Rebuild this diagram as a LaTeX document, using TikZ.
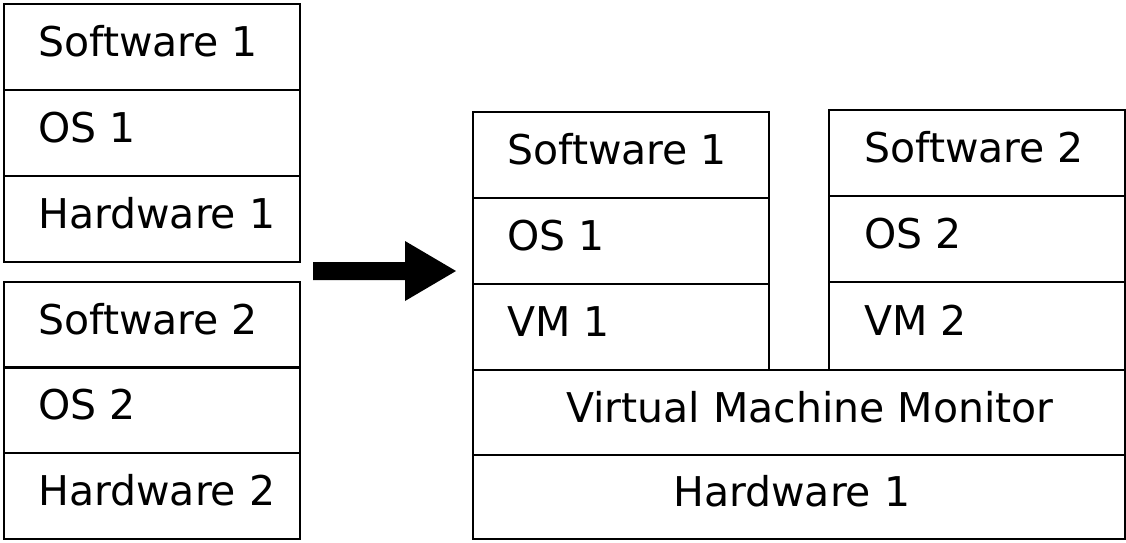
\documentclass[tikz,border=0pt]{standalone}
\usepackage{fontspec}
\setmainfont{DejaVu Sans}
\begin{document}
\begin{tikzpicture}[x=1pt,y=-1pt,
  box/.style={draw=black,line width=1.8pt,inner sep=0pt,anchor=north west},
  lbl/.style={anchor=base west,inner sep=0pt,font=\fontsize{41}{49}\selectfont}]
\useasboundingbox (0,0) rectangle (1126,542);
% left stacks
\node[box,minimum width=296pt,minimum height=86pt] (ls1) at (3,3) {};
\node[box,minimum width=296pt,minimum height=86pt] (lo1) at (3,89) {};
\node[box,minimum width=296pt,minimum height=86pt] (lh1) at (3,175) {};
\node[box,minimum width=296pt,minimum height=86pt] (ls2) at (3,281) {};
\node[box,minimum width=296pt,minimum height=86pt] (lo2) at (3,366) {};
\node[box,minimum width=296pt,minimum height=86pt] (lh2) at (3,452) {};
\node[lbl] (tls1) at ([xshift=35pt,yshift=-10pt]ls1.west) {Software 1};
\node[lbl] (tlo1) at ([xshift=35pt,yshift=-10pt]lo1.west) {OS 1};
\node[lbl] (tlh1) at ([xshift=35pt,yshift=-10pt]lh1.west) {Hardware 1};
\node[lbl] (tls2) at ([xshift=35pt,yshift=-10pt]ls2.west) {Software 2};
\node[lbl] (tlo2) at ([xshift=35pt,yshift=-10pt]lo2.west) {OS 2};
\node[lbl] (tlh2) at ([xshift=35pt,yshift=-10pt]lh2.west) {Hardware 2};
% right: VM 1 stack
\node[box,minimum width=296pt,minimum height=86pt] (rs1) at (472,111) {};
\node[box,minimum width=296pt,minimum height=86pt] (ro1) at (472,197) {};
\node[box,minimum width=296pt,minimum height=86pt] (rv1) at (472,283) {};
% right: VM 2 stack
\node[box,minimum width=296pt,minimum height=86pt] (rs2) at (828,109) {};
\node[box,minimum width=296pt,minimum height=86pt] (ro2) at (828,195) {};
\node[box,minimum width=296pt,minimum height=88pt] (rv2) at (828,281) {};
% VMM and hardware
\node[box,minimum width=652pt,minimum height=85pt] (vmm) at (472,369) {};
\node[box,minimum width=652pt,minimum height=84pt] (rh) at (472,454) {};
\node[lbl] (trs1) at ([xshift=35pt,yshift=-10pt]rs1.west) {Software 1};
\node[lbl] (tro1) at ([xshift=35pt,yshift=-10pt]ro1.west) {OS 1};
\node[lbl] (trv1) at ([xshift=35pt,yshift=-10pt]rv1.west) {VM 1};
\node[lbl] (trs2) at ([xshift=36pt,yshift=-10pt]rs2.west) {Software 2};
\node[lbl] (tro2) at ([xshift=36pt,yshift=-10pt]ro2.west) {OS 2};
\node[lbl] (trv2) at ([xshift=36pt,yshift=-10pt]rv2.west) {VM 2};
\node[lbl] (tvmm) at ([xshift=94pt,yshift=-10pt]vmm.west) {Virtual Machine Monitor};
\node[lbl] (trh) at ([xshift=201pt,yshift=-10pt]rh.west) {Hardware 1};
% arrow
\coordinate (a0) at (313,271);
\coordinate (a1) at (456,271);
\fill[black] (313,262) -- (405,262) -- (405,241) -- (a1) -- (405,301) -- (405,280) -- (313,280) -- cycle;
\end{tikzpicture}
\end{document}
